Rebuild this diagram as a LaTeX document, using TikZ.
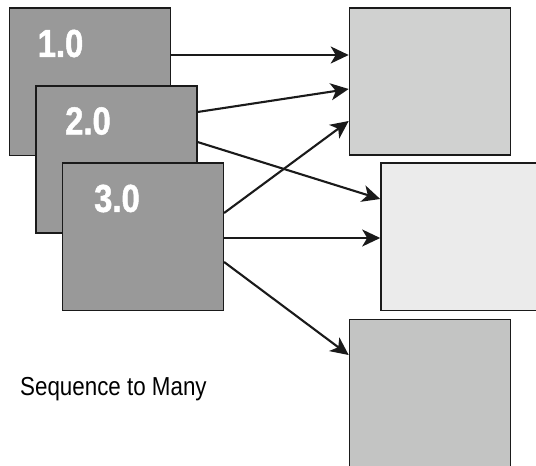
\documentclass[tikz,border=0pt]{standalone}
\usepackage{fontspec}
\setmainfont{Liberation Sans}
\newfontfamily\narrowsans[FakeStretch=0.86]{Liberation Sans}
\newfontfamily\numfont[FakeStretch=0.84,FakeBold=1.2]{Liberation Sans Bold}
\usetikzlibrary{arrows.meta}
\definecolor{seqgray}{HTML}{999999}
\definecolor{outA}{HTML}{D0D1D0}
\definecolor{outB}{HTML}{EBEBEB}
\definecolor{outC}{HTML}{C3C4C3}
\definecolor{edge}{HTML}{1A1A1A}
\begin{document}
\begin{tikzpicture}[x=1pt,y=-1pt,
  box/.style={draw=edge,line width=1.6pt,rectangle,inner sep=0pt,
    minimum width=161pt,minimum height=147.5pt},
  inbox/.style={box,fill=seqgray},
  num/.style={text=white,font=\numfont\fontsize{39}{39}\selectfont,inner sep=0pt},
  conn/.style={draw=edge,line width=2.1pt,-{Stealth[length=18pt,width=17pt,inset=5pt]}}]
\useasboundingbox (0,0) rectangle (536,466);
\clip (0,0) rectangle (536,466);
% output boxes
\node[box,fill=outA] (r1) at (430,81.5) {};
\node[box,fill=outB] (r2) at (461.5,236.7) {};
\node[box,fill=outC] (r3) at (430,393.3) {};
% input boxes
\node[inbox] (b1) at (89.9,81.8) {};
\node[inbox] (b2) at (116.2,159.5) {};
\node[inbox] (b3) at (142.8,236.9) {};
\node[num] (t1) at (60.5,43.5) {1.0};
\node[num] (t2) at (88,121) {2.0};
\node[num] (t3) at (117,198.5) {3.0};
% connectors
\draw[conn] ([yshift=26.8pt]b1.east) -- ([yshift=26.5pt]r1.west);
\draw[conn] ([yshift=47.5pt]b2.east) -- ([yshift=-7.5pt]r1.west);
\draw[conn] ([yshift=17.5pt]b2.east) -- ([yshift=37.7pt]r2.west);
\draw[conn] ([yshift=23.9pt]b3.east) -- ([yshift=-39.5pt]r1.west);
\draw[conn] ([yshift=-1.1pt]b3.east) -- ([yshift=-1.3pt]r2.west);
\draw[conn] ([yshift=-25.1pt]b3.east) -- ([yshift=38.3pt]r3.west);
% caption
\node[font=\narrowsans\fontsize{26}{26}\selectfont,inner sep=0pt,anchor=base west] (cap) at (20,395) {Sequence to Many};
\end{tikzpicture}
\end{document}
